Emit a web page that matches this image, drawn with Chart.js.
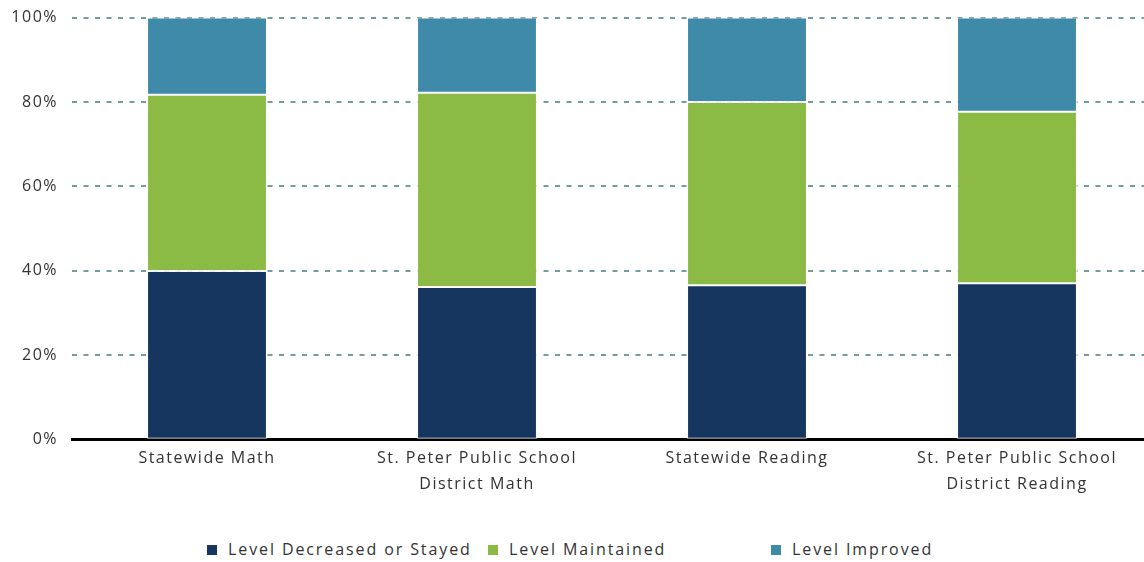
<!DOCTYPE html>
<html>
<head>
<meta charset="utf-8">
<script src="https://cdn.jsdelivr.net/npm/chart.js@4"></script>
<style>
  html, body { margin: 0; padding: 0; background: #fff; overflow: hidden; }
  #wrap { position: relative; width: 1144px; height: 562px; overflow: hidden; }
  #box { position: absolute; left: 0; top: -6px; width: 1154px; height: 509px; }
  #legend { position: absolute; top: 540px; left: 0; width: 1144px; height: 20px;
    font-family: 'Open Sans', sans-serif; font-size: 16px; color: #333; letter-spacing: 1.9px; }
  .item { position: absolute; top: 0; white-space: nowrap; line-height: 18px; }
  .sw { display: inline-block; width: 10px; height: 10px; margin-right: 11px; }
</style>
</head>
<body>
<div id="wrap">
  <div id="box"><canvas id="chart"></canvas></div>
  <div id="legend"></div>
</div>
<script>
const categories = [
  ['Statewide Math'],
  ['St. Peter Public School', 'District Math'],
  ['Statewide Reading'],
  ['St. Peter Public School', 'District Reading']
]
const seriesNames = ['Level Decreased or Stayed', 'Level Maintained', 'Level Improved']
const decreased = [40.0, 36.2, 36.6, 37.1]
const maintained = [41.7, 46.0, 43.4, 40.6]
const improved = [18.3, 17.8, 20.0, 22.3]
const yTicks = [0, 20, 40, 60, 80, 100]

const colors = ['#16365f', '#8bbb44', '#3f8aa8']
const legendX = [207, 488, 771]

const ds = [decreased, maintained, improved].map((d, i) => ({
  label: seriesNames[i],
  data: d,
  backgroundColor: colors[i],
  borderColor: 'rgba(255,255,255,0.85)',
  borderWidth: 1,
  borderSkipped: false,
  barPercentage: 0.888,
  categoryPercentage: 0.5
}))

const font = { family: "'Open Sans', sans-serif", size: 16, lineHeight: 1.6 }

// spaced-out lettering like the original export
const spacing = {
  id: 'spacing',
  beforeLayout: c => { c.ctx.letterSpacing = '1.5px' },
  beforeDraw: c => { c.ctx.letterSpacing = '1.5px' }
}

new Chart(document.getElementById('chart'), {
  type: 'bar',
  data: { labels: categories, datasets: ds },
  plugins: [spacing],
  options: {
    responsive: true,
    maintainAspectRatio: false,
    animation: false,
    layout: { padding: { top: 4, right: 2, left: 0, bottom: 0 } },
    plugins: { legend: { display: false }, tooltip: { enabled: false } },
    scales: {
      x: {
        stacked: true,
        grid: { display: false, drawTicks: false },
        border: { display: true, color: '#000', width: 3 },
        ticks: { color: '#333', font: font, padding: 6, maxRotation: 0 }
      },
      y: {
        stacked: true,
        min: 0, max: 100,
        afterBuildTicks: axis => { axis.ticks = yTicks.map(v => ({ value: v })) },
        afterFit: axis => { axis.width = 72 },
        grid: { color: '#749e9e', lineWidth: 2, drawTicks: false },
        border: { display: false, dash: [5, 6.5] },
        ticks: { color: '#333', font: { family: font.family, size: 16 }, padding: 14, callback: v => v + '%' }
      }
    }
  }
})

const legend = document.getElementById('legend')
seriesNames.forEach((name, i) => {
  const it = document.createElement('span')
  it.className = 'item'
  it.style.left = legendX[i] + 'px'
  it.innerHTML = '<span class="sw" style="background:' + colors[i] + '"></span>' + name
  legend.appendChild(it)
})
</script>
</body>
</html>
